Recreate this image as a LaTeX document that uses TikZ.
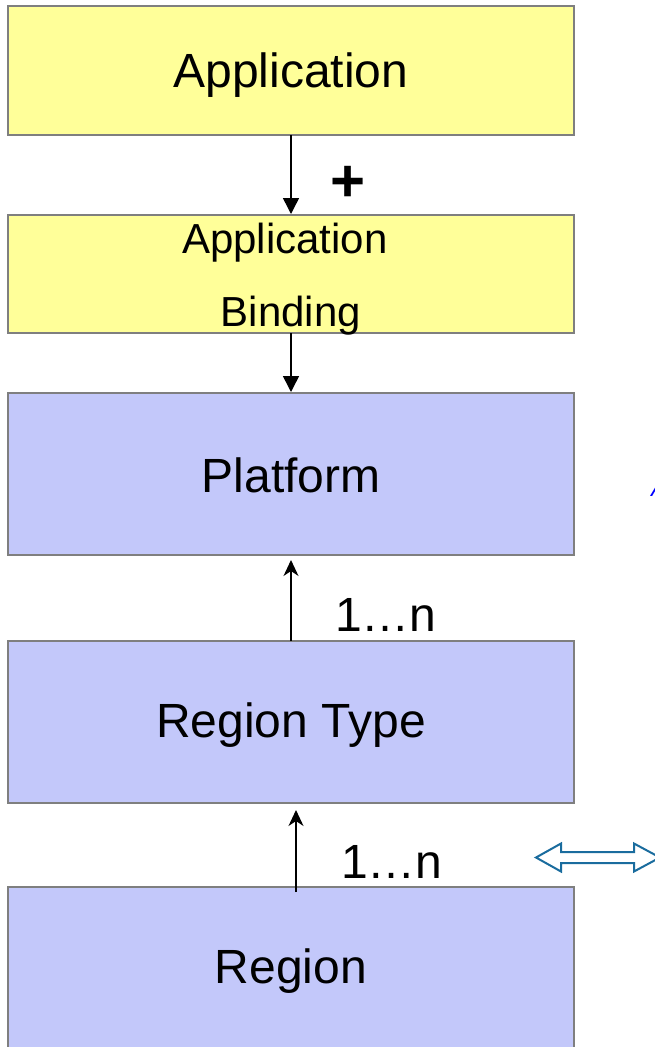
\documentclass[tikz,border=0pt]{standalone}
\usepackage{fontspec}
\setmainfont{Liberation Sans}
\usetikzlibrary{arrows.meta}
\definecolor{ylw}{HTML}{FFFF99}
\definecolor{blu}{HTML}{C3C8FA}
\definecolor{edge}{HTML}{7F7F7F}
\definecolor{dbl}{HTML}{1A6C9E}
\tikzset{
  box/.style={draw=edge, line width=2pt},
  lbl/.style={font=\fontsize{48}{56}\selectfont, inner sep=0pt},
  conn/.style={line width=1.5pt, -{Triangle[length=16pt,width=16pt]}},
  conn2/.style={line width=1.5pt, -{Stealth[length=16pt,width=15pt,inset=5pt]}}
}
\begin{document}
\begin{tikzpicture}[x=1pt,y=-1pt]
\useasboundingbox (0,0) rectangle (655,1047);
% boxes
\draw[box, fill=ylw] (8,6) rectangle (574,135);
\node[lbl] (app) at (291,75) {Application};
\draw[box, fill=ylw] (8,215) rectangle (574,333);
\node[lbl, font=\fontsize{42}{50}\selectfont] (bind1) at (285,243) {Application};
\node[lbl, font=\fontsize{42}{50}\selectfont] (bind2) at (291,316) {Binding};
\draw[box, fill=blu] (8,393) rectangle (574,555);
\node[lbl] (plat) at (291,475) {Platform};
\draw[box, fill=blu] (8,641) rectangle (574,803);
\node[lbl] (rtype) at (291,725) {Region Type};
\draw[box, fill=blu] (8,887) rectangle (574,1060);
\node[lbl] (reg) at (291,971) {Region};
% connectors
\coordinate (a1) at (291,135);
\coordinate (a2) at (291,214);
\draw[conn] (a1) -- (a2);
\node[lbl, font=\fontsize{60}{66}\selectfont\bfseries] (plus) at (348,184) {+};
\coordinate (b1) at (291,333);
\coordinate (b2) at (291,392);
\draw[conn] (b1) -- (b2);
\coordinate (c1) at (291,641);
\coordinate (c2) at (291,560);
\draw[conn2] (c1) -- (c2);
\node[lbl] (n1) at (386,615) {1…n};
\coordinate (d1) at (296,892);
\coordinate (d2) at (296,810);
\draw[conn2] (d1) -- (d2);
\node[lbl] (n2) at (392,862) {1…n};
% double outlined arrow
\draw[dbl, line width=2pt, fill=white, line join=miter]
  (536,857.5) -- (561,843.5) -- (561,852) -- (634,852) -- (634,843.5) -- (660,857.5)
  -- (634,871.5) -- (634,863) -- (561,863) -- (561,871.5) -- cycle;
% cut-off blue italic text
\node[font=\fontsize{22}{26}\selectfont\itshape, text=blue, anchor=base west, inner sep=0pt] (cut) at (651,496) {A};
\end{tikzpicture}
\end{document}
